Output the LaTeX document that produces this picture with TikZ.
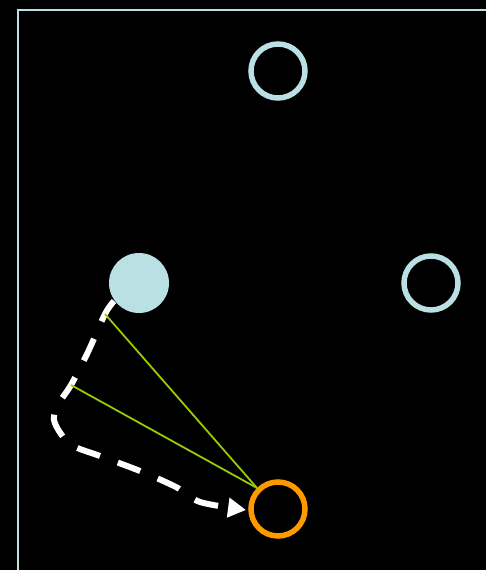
\documentclass[tikz,border=0pt]{standalone}
\usetikzlibrary{arrows.meta}
\definecolor{lblue}{RGB}{186,224,228}
\definecolor{orng}{RGB}{255,153,0}
\definecolor{lgreen}{RGB}{153,204,0}
\begin{document}
\begin{tikzpicture}[x=1pt,y=-1pt,
  ring/.style={circle,draw,line width=5.5pt,minimum size=54pt,inner sep=0pt},
  dot/.style={circle,fill=lblue,minimum size=60pt,inner sep=0pt},
  flow/.style={draw=white,line width=6pt,dash pattern=on 24pt off 19pt,
    -{Triangle[length=18pt,width=19pt]}},
  link/.style={draw=lgreen,line width=1.8pt}]
\fill[black] (0,0) rectangle (486,570);
\useasboundingbox (0,0) rectangle (486,570);
\draw[lblue,line width=2pt] (17.5,570) -- (17.5,9.5) -- (486,9.5);
\node[ring,draw=lblue] (top) at (278,71) {};
\node[dot] (fill) at (139,283) {};
\node[ring,draw=lblue] (right) at (431,283) {};
\node[ring,draw=orng] (o) at (278,509) {};
\coordinate (p1) at (105,314);
\coordinate (p2) at (71,385);
\draw[flow] plot[smooth,tension=0.5] coordinates {(114,301) (105,314) (88,352) (71,385) (57,406) (54,420) (61,434) (73,446) (100,456) (140,471) (176,487) (200,502) (246,510)};
\draw[link] (p1) -- (o.135);
\draw[link] (p2) -- (o.135);
\end{tikzpicture}
\end{document}
